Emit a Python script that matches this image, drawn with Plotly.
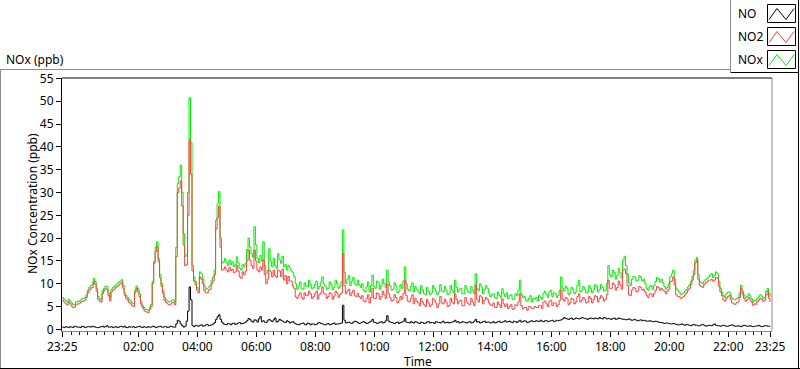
import pandas as pd
import plotly.graph_objects as go

# ---- data, 23:25 -> 23:25 next day ----
# readings on the 6-minute grid (23:25, 23:31, ...)
start = "2020-01-01 23:25"

nox = [7.0, 6.3, 6.6, 5.8, 5.5, 6.2, 6.4, 6.8, 7.5, 9.2,
       9.8, 10.5, 7.2, 6.5, 9.0, 9.4, 7.0, 9.2, 9.8, 10.3,
       10.9, 8.0, 7.0, 6.2, 5.6, 9.5, 7.8, 5.3, 4.4, 4.2,
       5.5, 15.0, 19.2, 12.0, 8.5, 6.5, 6.0, 6.4, 6.0, 32.0,
       36.0, 21.0, 16.5, 50.8, 14.0, 10.5, 8.8, 12.2, 9.5, 9.0,
       9.6, 11.5, 24.0, 30.2, 14.5, 15.5, 14.0, 14.2, 13.8, 15.9,
       13.4, 14.2, 14.5, 20.0, 16.6, 22.5, 15.5, 16.2, 19.2, 12.2,
       17.7, 13.7, 14.0, 16.6, 14.5, 13.7, 13.0, 13.5, 12.5, 10.0,
       9.5, 9.0, 10.2, 9.3, 9.8, 9.2, 10.6, 9.4, 11.5, 9.5,
       9.0, 9.8, 9.2, 10.0, 9.4, 21.8, 10.0, 11.8, 10.6, 10.0,
       10.8, 9.2, 8.6, 9.3, 8.2, 11.9, 9.0, 10.2, 9.6, 10.0,
       13.0, 9.5, 8.8, 9.6, 8.4, 9.0, 13.7, 8.8, 9.4, 8.2,
       8.8, 7.8, 8.6, 7.6, 8.4, 8.0, 9.0, 7.6, 9.8, 8.2,
       8.6, 7.8, 8.6, 10.8, 8.2, 9.0, 7.8, 8.8, 8.0, 8.6,
       12.2, 8.5, 9.3, 8.8, 9.0, 7.2, 7.8, 6.8, 7.4, 8.9,
       7.2, 6.8, 7.6, 6.6, 7.4, 10.8, 7.0, 6.4, 6.8, 6.0,
       6.6, 6.2, 7.0, 8.0, 7.6, 8.2, 7.2, 7.8, 7.4, 11.5,
       8.4, 9.0, 8.0, 8.8, 8.2, 10.8, 8.6, 8.8, 8.2, 9.0,
       8.6, 9.4, 8.8, 9.2, 8.6, 14.0, 11.5, 12.5, 11.8, 12.4,
       15.2, 14.0, 10.2, 11.0, 11.5, 10.8, 11.4, 11.0, 9.0, 9.4,
       8.8, 10.5, 11.1, 11.0, 9.4, 9.2, 11.5, 13.0, 9.0, 8.2,
       7.8, 8.4, 9.3, 10.5, 13.0, 15.8, 10.5, 10.0, 11.0, 11.5,
       12.2, 11.8, 12.2, 9.0, 7.4, 7.8, 8.2, 6.8, 6.5, 7.0,
       9.7, 7.6, 7.2, 7.4, 6.0, 6.2, 7.1, 7.3, 7.0, 9.0,
       7.1]

# readings between the grid points (23:28, 23:34, ...)
nox_mid = [6.6, 6.0, 6.2, 5.4, 6.0, 6.1, 6.7, 7.0, 8.6, 9.6,
           11.2, 9.0, 6.8, 8.5, 9.5, 8.0, 8.8, 9.4, 10.0, 10.6,
           9.6, 7.4, 6.5, 5.8, 8.5, 8.9, 6.2, 4.8, 4.3, 4.9,
           10.5, 18.0, 15.5, 10.0, 7.0, 6.2, 6.1, 6.5, 18.0, 33.5,
           30.0, 16.0, 30.0, 41.0, 11.5, 9.2, 12.6, 11.0, 8.8, 9.3,
           10.8, 13.0, 27.5, 20.0, 14.8, 14.6, 15.2, 14.8, 14.2, 14.6,
           13.0, 13.8, 17.5, 18.0, 15.8, 18.5, 14.6, 15.0, 14.0, 13.0,
           15.0, 15.6, 13.4, 15.2, 16.0, 14.2, 14.0, 12.8, 11.5, 8.8,
           10.4, 8.8, 9.6, 10.8, 8.9, 9.9, 8.8, 10.3, 10.0, 8.8,
           10.4, 8.7, 10.8, 9.0, 10.4, 12.5, 11.0, 9.6, 11.4, 9.6,
           9.8, 10.0, 8.2, 10.4, 9.6, 9.4, 10.6, 8.8, 11.0, 9.2,
           10.4, 8.6, 10.2, 8.0, 9.8, 10.6, 10.0, 8.4, 10.2, 9.4,
           8.4, 9.6, 7.8, 9.2, 7.6, 9.6, 8.4, 8.2, 8.4, 9.4,
           7.6, 9.6, 8.0, 9.2, 8.8, 7.8, 9.6, 8.2, 9.4, 7.8,
           9.0, 10.0, 7.8, 9.6, 8.0, 7.6, 7.0, 8.2, 7.0, 7.8,
           8.0, 7.4, 6.6, 7.8, 8.6, 7.6, 7.2, 6.2, 7.4, 6.8,
           7.0, 7.4, 6.6, 8.4, 7.0, 8.6, 8.0, 7.0, 8.6, 9.0,
           9.4, 7.6, 9.2, 7.8, 9.6, 8.2, 9.4, 8.0, 9.6, 8.0,
           9.8, 8.2, 9.8, 8.4, 10.0, 12.0, 13.0, 11.0, 13.4, 11.2,
           16.0, 12.0, 9.6, 11.6, 10.6, 11.8, 10.6, 10.0, 8.6, 9.6,
           9.6, 11.4, 10.4, 10.2, 8.8, 10.0, 12.2, 11.0, 8.6, 7.6,
           8.0, 8.8, 9.8, 11.6, 15.2, 12.0, 10.2, 10.6, 11.2, 12.0,
           11.4, 12.6, 10.5, 8.2, 7.0, 8.2, 7.4, 6.6, 6.8, 8.0,
           8.4, 7.0, 7.8, 6.8, 6.4, 6.8, 7.6, 6.8, 8.4, 8.0]

no2 = [6.4, 5.6, 6.0, 5.1, 4.9, 5.6, 5.9, 6.2, 7.0, 8.6,
       9.2, 9.9, 6.6, 6.0, 8.4, 8.8, 6.3, 8.6, 9.2, 9.7,
       10.3, 7.4, 6.4, 5.6, 5.0, 9.0, 7.2, 4.8, 3.9, 3.7,
       5.0, 14.5, 18.1, 11.3, 7.9, 5.9, 5.4, 5.8, 5.4, 30.0,
       32.5, 18.5, 14.2, 41.5, 12.8, 9.8, 8.0, 11.0, 8.5, 8.0,
       8.8, 10.6, 22.0, 27.0, 13.0, 13.7, 12.6, 12.9, 12.4, 14.0,
       11.5, 12.6, 12.8, 17.4, 14.0, 17.4, 13.0, 13.7, 15.2, 10.0,
       13.0, 11.5, 11.8, 13.0, 11.6, 10.8, 10.0, 10.6, 9.5, 7.1,
       7.5, 7.0, 8.0, 7.5, 7.8, 7.2, 8.4, 7.6, 9.3, 7.8,
       7.2, 7.8, 7.3, 8.0, 7.6, 16.6, 7.8, 8.8, 8.0, 7.4,
       7.9, 6.8, 6.2, 6.8, 5.8, 9.0, 6.8, 7.8, 7.2, 7.6,
       10.0, 7.0, 6.4, 7.0, 6.2, 6.6, 10.8, 6.2, 6.8, 5.6,
       6.2, 5.2, 6.0, 5.0, 5.8, 5.4, 6.4, 4.8, 7.2, 5.6,
       6.0, 5.2, 6.0, 7.8, 5.6, 6.4, 5.2, 6.0, 5.4, 6.0,
       9.7, 6.0, 7.1, 6.4, 6.6, 5.4, 5.8, 4.8, 5.4, 6.7,
       5.0, 4.6, 5.4, 4.5, 5.2, 7.8, 4.5, 4.8, 5.0, 4.6,
       5.0, 4.8, 5.2, 6.0, 5.6, 6.2, 5.2, 5.8, 5.4, 8.6,
       6.2, 6.8, 5.8, 6.6, 6.0, 7.8, 6.4, 6.6, 6.0, 6.8,
       6.6, 7.2, 6.8, 7.0, 6.6, 10.8, 9.0, 9.8, 9.2, 9.8,
       13.0, 12.2, 7.6, 8.6, 9.0, 8.4, 9.2, 8.8, 7.4, 7.8,
       7.2, 8.6, 9.2, 9.0, 8.4, 8.4, 10.5, 11.5, 7.6, 7.2,
       7.0, 7.6, 8.6, 9.8, 12.0, 15.2, 9.6, 9.2, 10.2, 10.8,
       11.0, 10.8, 11.2, 8.2, 6.5, 6.8, 7.4, 5.8, 5.5, 6.0,
       9.0, 6.8, 6.5, 6.6, 5.3, 5.5, 6.4, 6.6, 6.4, 8.3,
       6.0]

no2_mid = [6.0, 5.4, 5.6, 4.8, 5.4, 5.6, 6.1, 6.4, 8.0, 9.0,
           10.5, 8.4, 6.2, 7.9, 8.9, 7.4, 8.2, 8.8, 9.4, 10.0,
           9.0, 6.8, 5.9, 5.2, 8.0, 8.3, 5.6, 4.3, 3.8, 4.4,
           10.0, 17.0, 14.8, 9.4, 6.4, 5.6, 5.5, 5.9, 16.0, 31.0,
           27.0, 14.0, 25.0, 34.0, 10.6, 8.6, 11.5, 10.0, 8.0, 8.6,
           10.0, 12.0, 24.5, 18.0, 13.2, 13.0, 13.6, 13.2, 12.6, 12.8,
           11.2, 12.0, 15.0, 15.2, 13.4, 15.0, 12.6, 13.0, 12.0, 11.0,
           12.6, 13.0, 11.4, 12.8, 13.2, 11.8, 11.6, 10.6, 9.0, 6.8,
           8.0, 6.6, 7.4, 8.4, 6.8, 7.8, 6.6, 8.0, 7.8, 6.8,
           8.0, 6.6, 8.4, 7.0, 8.0, 9.6, 8.4, 7.4, 8.6, 7.2,
           7.2, 7.4, 6.0, 7.6, 7.0, 6.8, 8.0, 6.6, 8.4, 6.8,
           7.8, 6.2, 7.6, 5.8, 7.2, 7.8, 7.4, 6.0, 7.6, 6.8,
           5.8, 6.8, 5.4, 6.6, 5.0, 6.8, 5.8, 5.6, 5.8, 6.6,
           5.0, 6.8, 5.6, 6.6, 6.2, 5.2, 7.0, 5.6, 6.8, 5.2,
           6.6, 7.4, 5.6, 7.0, 5.8, 5.2, 4.8, 6.0, 4.8, 5.6,
           5.6, 5.0, 4.4, 5.4, 6.0, 5.2, 4.8, 4.2, 5.0, 4.6,
           4.8, 5.2, 4.6, 6.2, 5.0, 6.4, 5.8, 5.0, 6.4, 6.6,
           7.0, 5.4, 6.8, 5.6, 7.2, 6.0, 7.0, 5.8, 7.2, 5.8,
           7.4, 6.0, 7.4, 6.2, 7.6, 9.0, 10.2, 8.6, 10.6, 8.8,
           13.2, 9.6, 7.4, 9.2, 8.2, 9.4, 8.6, 8.2, 7.0, 7.8,
           7.8, 9.4, 8.6, 8.6, 7.8, 8.8, 10.6, 9.8, 7.2, 6.8,
           7.2, 8.0, 9.0, 10.8, 14.6, 11.0, 9.4, 9.8, 10.4, 10.8,
           10.6, 11.4, 9.5, 7.4, 6.2, 7.2, 6.6, 5.6, 5.9, 7.0,
           7.8, 6.2, 7.0, 6.0, 5.6, 6.0, 6.8, 6.2, 7.6, 6.8]

no = [0.5, 0.6, 0.4, 0.5, 0.7, 0.5, 0.4, 0.6, 0.5, 0.6,
      0.7, 0.5, 0.4, 0.6, 0.5, 0.8, 0.5, 0.4, 0.6, 0.5,
      0.6, 0.7, 0.4, 0.5, 0.6, 0.5, 0.7, 0.4, 0.5, 0.6,
      0.5, 0.6, 0.5, 0.7, 0.5, 0.6, 0.5, 0.6, 0.5, 2.0,
      1.2, 0.5, 1.8, 9.3, 0.8, 0.9, 0.7, 1.0, 0.8, 1.1,
      0.9, 1.2, 2.2, 3.2, 1.6, 1.1, 1.3, 1.0, 1.4, 1.2,
      1.5, 1.3, 1.6, 2.4, 1.8, 2.1, 1.6, 2.8, 1.9, 1.5,
      2.2, 1.7, 2.5, 1.8, 2.0, 1.6, 1.9, 1.4, 1.7, 1.2,
      1.0, 1.3, 1.1, 1.4, 1.0, 1.2, 1.1, 1.5, 1.2, 1.0,
      1.3, 1.1, 1.4, 1.2, 1.3, 5.3, 1.4, 1.6, 1.3, 1.8,
      1.5, 1.4, 1.7, 1.3, 1.6, 2.2, 1.5, 1.4, 1.7, 1.5,
      3.0, 1.6, 1.4, 1.5, 1.3, 1.6, 2.4, 1.5, 1.7, 1.4,
      1.6, 1.3, 1.5, 1.4, 1.7, 1.5, 1.3, 1.6, 1.4, 1.8,
      1.5, 1.4, 1.6, 2.0, 1.7, 1.5, 1.6, 1.4, 1.7, 1.5,
      2.2, 1.7, 1.5, 1.8, 1.6, 1.4, 1.7, 1.5, 1.8, 1.6,
      1.9, 1.7, 1.6, 1.8, 1.5, 2.0, 1.7, 1.8, 1.6, 1.9,
      1.7, 1.8, 2.0, 1.7, 1.9, 1.8, 2.0, 1.8, 1.9, 2.1,
      2.6, 2.3, 2.4, 2.2, 2.5, 2.3, 2.6, 2.4, 2.2, 2.5,
      2.3, 2.4, 2.6, 2.3, 2.5, 2.4, 2.2, 2.5, 2.3, 2.4,
      2.2, 2.1, 2.3, 2.0, 2.2, 1.9, 2.1, 2.0, 1.8, 1.9,
      1.7, 1.8, 1.6, 1.5, 1.3, 1.4, 1.2, 1.3, 1.1, 1.0,
      1.2, 0.9, 1.0, 0.8, 1.1, 0.9, 0.8, 1.1, 0.7, 0.9,
      0.8, 1.2, 0.8, 0.7, 0.9, 0.7, 0.8, 1.0, 0.7, 0.8,
      0.6, 0.9, 0.7, 0.8, 0.6, 0.7, 0.9, 0.6, 0.8, 0.7,
      0.6]

no_mid = [0.4, 0.5, 0.6, 0.4, 0.6, 0.5, 0.7, 0.4, 0.6, 0.5,
          0.6, 0.4, 0.5, 0.7, 0.6, 0.5, 0.6, 0.5, 0.4, 0.7,
          0.5, 0.4, 0.6, 0.5, 0.4, 0.6, 0.5, 0.6, 0.4, 0.5,
          0.7, 0.4, 0.6, 0.5, 0.6, 0.4, 0.7, 0.5, 1.2, 1.8,
          0.8, 0.7, 4.0, 6.5, 0.6, 0.8, 0.9, 0.7, 1.0, 0.8,
          1.0, 1.5, 2.8, 2.2, 1.2, 1.0, 1.2, 1.3, 1.1, 1.4,
          1.2, 1.4, 1.9, 2.2, 1.6, 2.0, 2.3, 1.7, 1.6, 2.0,
          1.9, 2.1, 1.6, 2.2, 1.8, 1.5, 1.7, 1.6, 1.4, 1.1,
          1.2, 1.4, 1.0, 1.3, 1.2, 1.0, 1.4, 1.3, 1.1, 1.2,
          1.0, 1.3, 1.1, 1.2, 1.4, 2.0, 1.5, 1.4, 1.6, 1.7,
          1.3, 1.6, 1.5, 1.4, 1.8, 1.6, 1.3, 1.6, 1.4, 1.9,
          1.8, 1.5, 1.3, 1.6, 1.5, 1.8, 1.6, 1.4, 1.5, 1.7,
          1.4, 1.6, 1.3, 1.6, 1.4, 1.5, 1.7, 1.5, 1.6, 1.4,
          1.6, 1.5, 1.7, 1.6, 1.4, 1.7, 1.5, 1.6, 1.4, 1.8,
          1.6, 1.4, 1.7, 1.5, 1.6, 1.5, 1.4, 1.7, 1.5, 1.7,
          1.6, 1.8, 1.5, 1.7, 1.8, 1.6, 1.9, 1.5, 1.8, 1.7,
          1.9, 1.7, 1.8, 1.9, 1.7, 1.9, 1.7, 2.0, 2.0, 2.3,
          2.4, 2.2, 2.5, 2.3, 2.4, 2.4, 2.5, 2.3, 2.4, 2.4,
          2.5, 2.3, 2.4, 2.6, 2.3, 2.3, 2.4, 2.2, 2.5, 2.3,
          2.2, 2.2, 2.1, 2.1, 2.0, 2.0, 1.9, 1.9, 1.8, 1.8,
          1.7, 1.7, 1.5, 1.4, 1.4, 1.3, 1.2, 1.2, 1.0, 1.1,
          1.0, 1.1, 0.9, 1.0, 0.9, 0.8, 1.0, 0.9, 0.8, 0.9,
          1.0, 0.9, 0.8, 0.8, 0.8, 0.7, 0.9, 0.8, 0.7, 0.7,
          0.8, 0.8, 0.7, 0.7, 0.7, 0.8, 0.7, 0.7, 0.8, 0.7]

tick_times = ["2020-01-01 23:25", "2020-01-02 02:00", "2020-01-02 04:00",
              "2020-01-02 06:00", "2020-01-02 08:00", "2020-01-02 10:00",
              "2020-01-02 12:00", "2020-01-02 14:00", "2020-01-02 16:00",
              "2020-01-02 18:00", "2020-01-02 20:00", "2020-01-02 22:00",
              "2020-01-02 23:25"]
tick_labels = ["23:25", "02:00", "04:00", "06:00", "08:00", "10:00", "12:00",
               "14:00", "16:00", "18:00", "20:00", "22:00", "23:25"]
y_ticks = [0, 5, 10, 15, 20, 25, 30, 35, 40, 45, 50, 55]

series_names = ["NO", "NO2", "NOx"]
series_colors = ["#000000", "#ff4040", "#00ee00"]


def merge(grid, mid):
    out = []
    for k, v in enumerate(grid):
        out.append(v)
        if k < len(mid):
            out.append(mid[k])
    return out


nox_all = merge(nox, nox_mid)
no2_all = merge(no2, no2_mid)
no_all = merge(no, no_mid)
time = pd.date_range(start, periods=len(nox_all), freq="3min")

FONT = "Noto Sans"
fig = go.Figure()
for name, vals, col in [("NOx", nox_all, "#00ee00"), ("NO2", no2_all, "#ff4040"), ("NO", no_all, "#000000")]:
    fig.add_trace(go.Scatter(x=time, y=vals, mode="lines", name=name,
                             line=dict(color=col, width=1, shape="hv"),
                             showlegend=False, hoverinfo="skip"))

x0 = pd.Timestamp("2020-01-01 23:24:30")
x1 = pd.Timestamp("2020-01-02 23:29")

fig.update_layout(
    width=800, height=369,
    margin=dict(l=62, r=28, t=78, b=38),
    paper_bgcolor="white", plot_bgcolor="white",
    font=dict(family=FONT, size=12, color="black"),
    xaxis=dict(type="date", range=[x0, x1], tickmode="array",
               tickvals=tick_times, ticktext=tick_labels,
               ticks="outside", ticklen=5, tickcolor="black",
               showgrid=False, zeroline=False,
               showline=True, linecolor="#8c8c8c", linewidth=1,
               tickfont=dict(family=FONT, size=12),
               minor=dict(ticks="outside", ticklen=3, tickcolor="black",
                          dtick=2 * 3600 * 1000 / 7, tick0="2020-01-02 02:00",
                          showgrid=False)),
    yaxis=dict(range=[-0.35, 55.1], tickmode="array", tickvals=y_ticks,
               ticks="outside", ticklen=5, tickcolor="black",
               showgrid=False, zeroline=False,
               showline=True, linecolor="black", linewidth=1,
               tickfont=dict(family=FONT, size=12)),
)

# plot frame: black top, gray right
fig.add_shape(type="line", xref="paper", yref="paper", x0=0, x1=1, y0=1, y1=1,
              line=dict(color="black", width=1))
fig.add_shape(type="line", xref="paper", yref="paper", x0=1, x1=1, y0=0, y1=1,
              line=dict(color="#8c8c8c", width=1))


# outer panel frame (pixel coords converted to paper fractions)
def px(xp):
    return (xp - 62) / (800 - 62 - 28)


def py(yp):
    return (369 - 38 - yp) / (369 - 78 - 38)


fig.add_shape(type="line", xref="paper", yref="paper", x0=px(0), x1=px(730), y0=py(69.5), y1=py(69.5),
              line=dict(color="#8c8c8c", width=1))
fig.add_shape(type="line", xref="paper", yref="paper", x0=px(0.5), x1=px(0.5), y0=py(69.5), y1=py(369),
              line=dict(color="#8c8c8c", width=1))
fig.add_shape(type="line", xref="paper", yref="paper", x0=px(0), x1=px(800), y0=py(368.5), y1=py(368.5),
              line=dict(color="black", width=1))
fig.add_shape(type="line", xref="paper", yref="paper", x0=px(798.5), x1=px(798.5), y0=py(0), y1=py(369),
              line=dict(color="black", width=1))
# legend panel
fig.add_shape(type="line", xref="paper", yref="paper", x0=px(730.5), x1=px(730.5), y0=py(0), y1=py(72),
              line=dict(color="#8c8c8c", width=1))
fig.add_shape(type="line", xref="paper", yref="paper", x0=px(730.5), x1=px(799), y0=py(72.5), y1=py(72.5),
              line=dict(color="black", width=1))

for k, (name, col) in enumerate(zip(series_names, series_colors)):
    top = 4.5 + 23 * k
    fig.add_shape(type="rect", xref="paper", yref="paper",
                  x0=px(767.5), x1=px(795.5), y0=py(top), y1=py(top + 18),
                  line=dict(color="black", width=1), fillcolor="white")
    pts = [(769, top + 15), (777, top + 4), (786, top + 15), (794, top + 4)]
    path = "M " + " L ".join(f"{px(a)},{py(b)}" for a, b in pts)
    fig.add_shape(type="path", xref="paper", yref="paper", path=path,
                  line=dict(color=col, width=1))
    fig.add_annotation(text=name, xref="paper", yref="paper",
                       x=px(736), y=py(top + 9), xanchor="left", yanchor="middle",
                       showarrow=False, font=dict(family=FONT, size=12, color="black"))

fig.add_annotation(text="NOx (ppb)", xref="paper", yref="paper", x=px(4), y=py(59),
                   xanchor="left", yanchor="middle", showarrow=False,
                   font=dict(family=FONT, size=12, color="black"))
fig.add_annotation(text="NOx Concentration (ppb)", xref="paper", yref="paper",
                   x=px(32), y=py(204), textangle=-90, xanchor="center", yanchor="middle",
                   showarrow=False, font=dict(family=FONT, size=12, color="black"))
fig.add_annotation(text="Time", xref="paper", yref="paper", x=px(418), y=py(361),
                   xanchor="center", yanchor="middle", showarrow=False,
                   font=dict(family=FONT, size=12, color="black"))

fig.write_html("out.html", config={"displayModeBar": False},
               post_script="document.body.style.margin='0';document.body.style.padding='0';document.documentElement.style.overflow='hidden';")
